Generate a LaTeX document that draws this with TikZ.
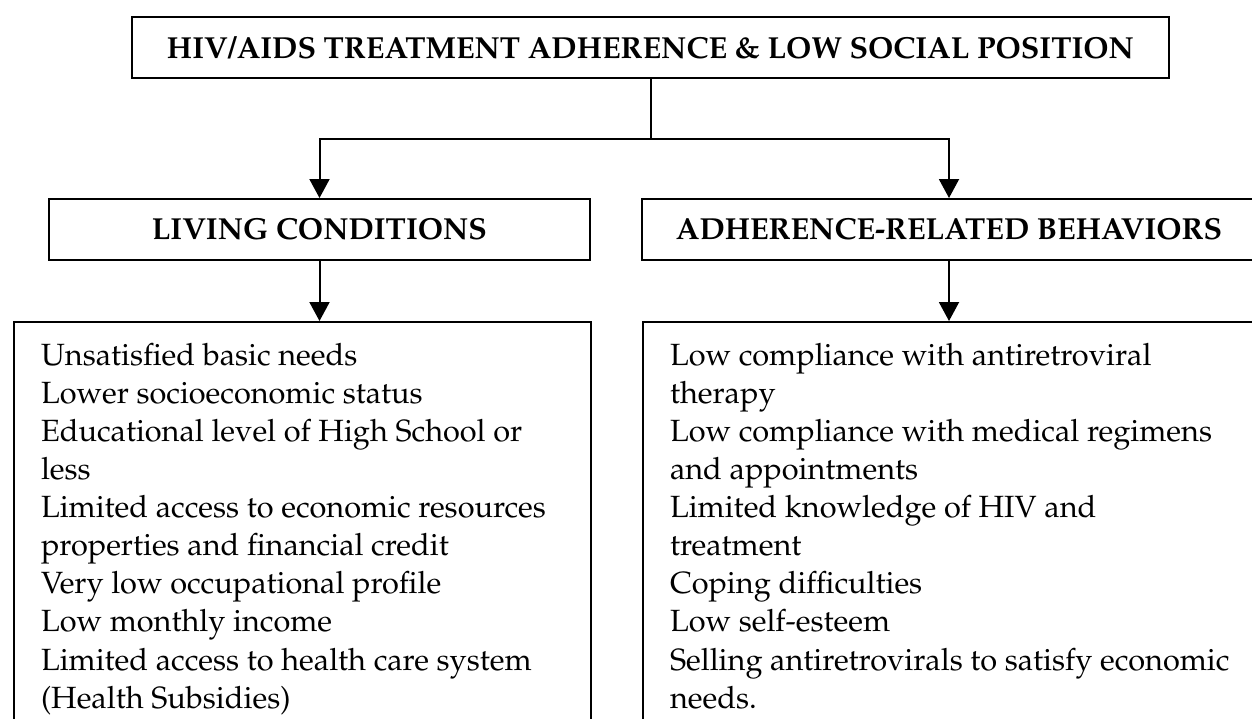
\documentclass[tikz,border=0pt]{standalone}
\usepackage[T1]{fontenc}
\renewcommand{\rmdefault}{ppl}
\usepackage{tikz}
\usetikzlibrary{positioning,arrows.meta}
\tikzstyle{head} = [draw, rectangle, minimum height=30.5pt,
    font=\fontsize{15.2}{18}\selectfont\bfseries]
\tikzstyle{frame} = [draw, rectangle, anchor=north west, minimum height=250pt]
\tikzstyle{items} = [anchor=north west, align=left, inner sep=0pt,
    font=\fontsize{15.35}{19.05}\selectfont]

\begin{document}
\begin{tikzpicture}[x=0.5pt, y=-0.5pt, line width=1pt,
    >={Triangle[width=10pt,length=9.5pt]}]
    \clip (0,0) rectangle (1252,718);
    % We start by placing the heading blocks
    \node [head, minimum width=518.5pt] (top) at (650.5,47.5)
        {HIV/AIDS TREATMENT ADHERENCE \& LOW SOCIAL POSITION};
    \node [head, minimum width=270.5pt] (living) at (319.5,229.5) {LIVING CONDITIONS};
    \node [head, minimum width=307pt] (behav) at (949,229.5) {ADHERENCE-RELATED BEHAVIORS};
    % then the two lists below them
    \node [frame, minimum width=288.5pt] (livlist) at (13,321) {};
    \node [frame, minimum width=307pt] (behlist) at (642,321) {};
    \node [items] (livtext) at ([xshift=13.5pt,yshift=-10.5pt]livlist.north west)
        {Unsatisfied basic needs\\
         Lower socioeconomic status\\
         Educational level of High School or\\
         less\\
         Limited access to economic resources\\
         properties and financial credit\\
         Very low occupational profile\\
         Low monthly income\\
         Limited access to health care system\\
         (Health Subsidies)};
    \node [items] (behtext) at ([xshift=13.5pt,yshift=-10.5pt]behlist.north west)
        {Low compliance with antiretroviral\\
         therapy\\
         Low compliance with medical regimens\\
         and appointments\\
         Limited knowledge of HIV and\\
         treatment\\
         Coping difficulties\\
         Low self-esteem\\
         Selling antiretrovirals to satisfy economic\\
         needs.};
    % We draw the connectors
    \draw (top.south) -- ++(0,60) coordinate (split);
    \draw [->] (split) -| (living.north);
    \draw [->] (split) -| (behav.north);
    \draw [->] (living.south) -- (living.south |- livlist.north);
    \draw [->] (behav.south) -- (behav.south |- behlist.north);
\end{tikzpicture}
\end{document}
